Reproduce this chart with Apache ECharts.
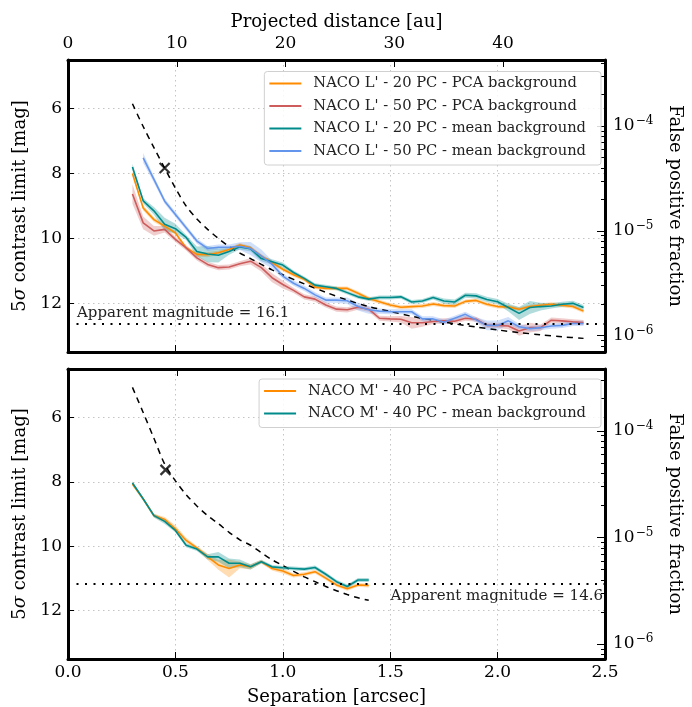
<!DOCTYPE html>
<html><head><meta charset="utf-8">
<script src="https://cdn.jsdelivr.net/npm/echarts@6/dist/echarts.min.js"></script>
<style>html,body{margin:0;padding:0;background:#fff}#c{width:692px;height:707px}</style>
</head><body><div id="c"></div>
<script>
// ---------- DATA ----------
const sepL = [0.30,0.35,0.40,0.45,0.50,0.55,0.60,0.65,0.70,0.75,
              0.80,0.85,0.90,0.95,1.00,1.05,1.10,1.15,1.20,1.25,
              1.30,1.35,1.40,1.45,1.50,1.55,1.60,1.65,1.70,1.75,
              1.80,1.85,1.90,1.95,2.00,2.05,2.10,2.15,2.20,2.25,
              2.30,2.35,2.40];
const orangeL = [8.0,9.06,9.42,9.62,9.83,10.29,10.49,10.5,10.44,10.34,
                 10.2,10.29,10.54,10.75,10.95,11.12,11.26,11.5,11.54,11.54,
                 11.54,11.69,11.85,11.95,12.05,12.12,12.1,12.08,12.02,12.07,
                 12.08,11.94,11.91,12.03,12.1,12.11,12.18,12.1,12.06,12.03,
                 12.06,12.1,12.24];
const redL = [8.63,9.52,9.77,9.72,10.03,10.29,10.6,10.8,10.9,10.88,
              10.78,10.7,10.9,11.21,11.42,11.6,11.8,11.87,12.05,12.18,
              12.2,12.12,12.18,12.46,12.48,12.49,12.6,12.6,12.56,12.54,
              12.55,12.46,12.49,12.68,12.68,12.7,12.85,12.75,12.75,12.52,
              12.54,12.57,12.59];
const tealL = [7.8,8.84,9.15,9.56,9.7,9.97,10.4,10.48,10.52,10.4,
               10.26,10.32,10.62,10.72,10.82,11.05,11.23,11.44,11.49,11.54,
               11.67,11.8,11.87,11.82,11.82,11.8,11.96,11.93,11.82,11.93,
               11.96,11.75,11.77,11.88,11.95,12.13,12.31,12.13,12.1,12.08,
               12.03,12.0,12.13];
const blueL = [null,7.52,8.18,8.85,9.26,9.67,10.08,10.31,10.27,10.27,
               10.24,10.31,10.54,10.8,11.16,11.38,11.54,11.74,11.9,11.9,
               11.92,12.1,12.2,12.24,12.26,12.26,12.26,12.48,12.48,12.58,
               12.46,12.34,12.51,12.68,12.68,12.54,12.72,12.78,12.75,12.7,
               12.68,12.62,12.62];
const errOrangeL = [0.08,0.08,0.07,0.06,0.06,0.06,0.07,0.08,0.06,0.06,
                    0.06,0.06,0.06,0.06,0.06,0.06,0.06,0.06,0.06,0.06,
                    0.06,0.06,0.06,0.06,0.06,0.06,0.06,0.06,0.06,0.06,
                    0.06,0.06,0.06,0.06,0.06,0.06,0.06,0.06,0.06,0.06,
                    0.06,0.06,0.06];
const errRedL = [0.3,0.2,0.15,0.1,0.08,0.08,0.08,0.08,0.08,0.08,
                 0.08,0.1,0.12,0.14,0.12,0.08,0.08,0.08,0.08,0.08,
                 0.08,0.08,0.08,0.08,0.08,0.1,0.18,0.12,0.08,0.08,
                 0.08,0.08,0.08,0.08,0.08,0.1,0.15,0.15,0.1,0.08,
                 0.08,0.08,0.08];
const errTealL = [0.1,0.08,0.12,0.2,0.15,0.08,0.15,0.25,0.22,0.1,
                  0.08,0.08,0.08,0.08,0.08,0.06,0.06,0.06,0.06,0.06,
                  0.06,0.06,0.06,0.06,0.06,0.06,0.06,0.06,0.06,0.08,
                  0.08,0.08,0.08,0.08,0.08,0.12,0.2,0.2,0.12,0.08,
                  0.08,0.08,0.08];
const errBlueL = [0,0.15,0.1,0.08,0.08,0.08,0.08,0.08,0.08,0.08,
                  0.12,0.2,0.2,0.12,0.08,0.08,0.08,0.08,0.08,0.08,
                  0.1,0.12,0.12,0.08,0.08,0.08,0.08,0.08,0.08,0.08,
                  0.08,0.08,0.08,0.15,0.15,0.12,0.08,0.08,0.08,0.08,
                  0.08,0.08,0.08];
const dashSepL = [0.30,0.35,0.40,0.45,0.50,0.55,0.60,0.65,0.70,0.75,0.80,0.85,0.90,0.95,1.00,
                  1.10,1.20,1.30,1.40,1.50,1.60,1.70,1.80,1.90,2.00,2.10,2.20,2.30,2.40];
const dashMagL = [5.85,6.55,7.2,7.83,8.45,9.0,9.4,9.72,10.0,10.25,10.45,10.62,10.8,10.97,11.12,
                  11.4,11.66,11.9,12.1,12.25,12.4,12.52,12.63,12.73,12.82,12.9,12.97,13.03,13.08];

const sepM = [0.30,0.35,0.40,0.45,0.50,0.55,0.60,0.65,0.70,0.75,
              0.80,0.85,0.90,0.95,1.00,1.05,1.10,1.15,1.20,1.25,
              1.30,1.35,1.40];
const orangeM = [8.07,8.53,9.05,9.17,9.46,9.82,10.05,10.33,10.58,10.69,
                 10.58,10.64,10.48,10.69,10.77,10.91,10.87,10.79,10.99,11.2,
                 11.32,11.2,11.22];
const tealM = [8.04,8.53,9.05,9.23,9.51,9.97,10.09,10.33,10.33,10.53,
               10.53,10.64,10.48,10.64,10.67,10.69,10.71,10.66,10.87,11.1,
               11.25,11.05,11.05];
const errOrangeM = [0.06,0.06,0.06,0.08,0.1,0.08,0.06,0.1,0.15,0.28,
                    0.1,0.08,0.06,0.06,0.08,0.06,0.06,0.06,0.06,0.06,
                    0.06,0.06,0.06];
const errTealM = [0.06,0.06,0.06,0.08,0.06,0.06,0.06,0.08,0.15,0.15,
                  0.12,0.08,0.06,0.06,0.06,0.06,0.06,0.06,0.06,0.06,
                  0.06,0.06,0.06];
const dashSepM = [0.30,0.35,0.40,0.45,0.50,0.55,0.60,0.65,0.70,0.75,0.80,0.85,0.90,0.95,1.00,
                  1.05,1.10,1.15,1.20,1.25,1.30,1.35,1.40];
const dashMagM = [5.07,5.85,6.65,7.45,7.97,8.4,8.75,9.05,9.3,9.57,9.8,9.97,10.2,10.42,10.6,
                  10.78,10.95,11.1,11.25,11.38,11.5,11.6,11.68];

const crossSep = [0.45, 0.454];
const crossMag = [7.83, 7.63];
const limitMag = [12.64, 11.18];
const limitText = ['Apparent magnitude = 16.1', 'Apparent magnitude = 14.6'];

const namesL = ["NACO L' - 20 PC - PCA background", "NACO L' - 50 PC - PCA background",
                "NACO L' - 20 PC - mean background", "NACO L' - 50 PC - mean background"];
const namesM = ["NACO M' - 40 PC - PCA background", "NACO M' - 40 PC - mean background"];

const sepTicks = [0, 0.5, 1.0, 1.5, 2.0, 2.5];
const auTicks = [0, 10, 20, 30, 40];
const magTicks = [6, 8, 10, 12];
const fpfExponents = [-6, -5, -4];
const distancePc = 19.75;
const fpfRange = [[-6.155, -3.37], [-6.14, -3.42]];

// ---------- STYLE ----------
const FONT = 'DejaVu Serif';
const C = {orange:'#ff8c00', red:'#cd5c5c', teal:'#008b8b', blue:'#6495ed'};

const minorFpf = [];
for (let n = -7; n <= -3; n++) for (let k = 2; k <= 9; k++) minorFpf.push(n + Math.log10(k));

function lineSeries(name, xs, ys, color, gi) {
  const data = [];
  xs.forEach((x, i) => { if (ys[i] != null) data.push([x, ys[i]]); });
  return {type:'line', name, data, xAxisIndex: gi*2, yAxisIndex: gi*3, symbol:'none',
          lineStyle:{color, width:1.6}, itemStyle:{color}, z:4, animation:false};
}
function bandSeries(key, xs, ys, es, color, gi) {
  const rows = [];
  xs.forEach((x, i) => { if (ys[i] != null) rows.push([x, ys[i]-es[i], ys[i]+es[i]]); });
  return {type:'custom', name:'_band'+key, xAxisIndex: gi*2, yAxisIndex: gi*3, silent:true, animation:false, z:2,
    data: rows, encode:{x:0, y:[1,2]}, clip:true,
    renderItem: (params, api) => {
      if (params.dataIndex !== 0) return null;
      const pts = [];
      rows.forEach(r => pts.push(api.coord([r[0], r[2]])));
      for (let j = rows.length-1; j >= 0; j--) pts.push(api.coord([rows[j][0], rows[j][1]]));
      return {type:'polygon', shape:{points: pts}, style:{fill: color, opacity: 0.3}};
    }};
}
function dashSeries(xs, ys, gi) {
  return {type:'line', name:'_dash'+gi, data: xs.map((x,i)=>[x, ys[i]]), xAxisIndex: gi*2, yAxisIndex: gi*3,
          symbol:'none', smooth:0.3, z:3, animation:false, silent:true,
          lineStyle:{color:'#000', width:1.5, type:[6,5]},
          markLine:{silent:true, symbol:['none','none'], animation:false,
            data:[{yAxis: limitMag[gi]}],
            lineStyle:{color:'#000', width:2, type:[2,6.5]},
            label:{show:true, formatter: limitText[gi], fontFamily:FONT, fontSize:15, color:'#222',
                   position: gi===0 ? 'insideStartTop' : 'insideEndBottom', distance: gi===0 ? [9,3] : [2,4]}}};
}
function crossSeries(gi) {
  return {type:'scatter', name:'_x'+gi, data:[[crossSep[gi], crossMag[gi]]], xAxisIndex: gi*2, yAxisIndex: gi*3,
          symbol:'path://M0,0L10,10M10,0L0,10', symbolSize:10, z:5, animation:false, silent:true,
          itemStyle:{color:'rgba(0,0,0,0)', borderColor:'#000', borderWidth:2.2}};
}

const grids = [
  {left:68, top:60, width:547, height:292},
  {left:68, top:369, width:547, height:290}
];
const axLine = {show:true, onZero:false, lineStyle:{color:'#000', width:3}};
const tickIn = {show:true, inside:true, length:7, lineStyle:{color:'#000', width:1}};
const gridLine = {show:true, lineStyle:{color:'#c4c4c4', width:1, type:[1.5,3.5]}};
const lab = {fontFamily:FONT, fontSize:17, color:'#000'};
const nameStyle = {fontFamily:FONT, fontSize:18, color:'#000'};

const xAxis = [], yAxis = [];
[0,1].forEach(gi => {
  xAxis.push({gridIndex:gi, type:'value', position:'bottom', min:sepTicks[0], max:sepTicks[sepTicks.length-1], interval:0.5,
    axisLine:axLine, axisTick:tickIn, splitLine:gridLine,
    axisLabel: Object.assign({show: gi===1, margin:5, formatter: v => v.toFixed(1)}, lab),
    name: gi===1 ? 'Separation [arcsec]' : '', nameLocation:'middle', nameGap:29, nameTextStyle:nameStyle});
  xAxis.push({gridIndex:gi, type:'value', position:'top', min:0, max:2.5*distancePc, interval:10,
    axisLine:axLine, axisTick:tickIn, splitLine:{show:false},
    axisLabel: Object.assign({show: gi===0, margin:8, showMaxLabel:false}, lab),
    name: gi===0 ? 'Projected distance [au]' : '', nameLocation:'middle', nameGap:29, nameTextStyle:nameStyle});
  yAxis.push({gridIndex:gi, type:'value', position:'left', inverse:true, min:4.5, max:13.5,
    axisLine:axLine, axisTick:Object.assign({}, tickIn, {length:6, customValues: magTicks}),
    splitLine:gridLine, splitNumber:5,
    axisLabel: Object.assign({margin:6, customValues: magTicks}, lab),
    name:'5{i|σ} contrast limit [mag]', nameLocation:'middle', nameGap:39,
    nameTextStyle:Object.assign({rich:{i:{fontFamily:FONT, fontSize:18, fontStyle:'italic', color:'#000'}}}, nameStyle)});
  yAxis.push({gridIndex:gi, type:'value', position:'right', min:fpfRange[gi][0], max:fpfRange[gi][1],
    axisLine:axLine, axisTick:Object.assign({}, tickIn, {length:8, customValues: fpfExponents}), splitLine:{show:false},
    axisLabel: Object.assign({margin:8, customValues: fpfExponents,
      formatter: v => '10{s|−' + Math.abs(Math.round(v)) + '}',
      rich:{s:{fontFamily:FONT, fontSize:12, color:'#000', padding:[0,0,10,1]}}}, lab),
    name:'False positive fraction', nameLocation:'middle', nameGap:61, nameRotate:-90, nameTextStyle:nameStyle});
  yAxis.push({gridIndex:gi, type:'value', position:'right', min:fpfRange[gi][0], max:fpfRange[gi][1],
    axisLine:{show:false, onZero:false}, axisLabel:{show:false}, splitLine:{show:false},
    axisTick:{show:true, inside:true, length:4, lineStyle:{color:'#000', width:1}, customValues: minorFpf}});
});

const series = [];
series.push(bandSeries('oL', sepL, orangeL, errOrangeL, C.orange, 0));
series.push(bandSeries('rL', sepL, redL, errRedL, C.red, 0));
series.push(bandSeries('tL', sepL, tealL, errTealL, C.teal, 0));
series.push(bandSeries('bL', sepL, blueL, errBlueL, C.blue, 0));
series.push(lineSeries(namesL[0], sepL, orangeL, C.orange, 0));
series.push(lineSeries(namesL[1], sepL, redL, C.red, 0));
series.push(lineSeries(namesL[2], sepL, tealL, C.teal, 0));
series.push(lineSeries(namesL[3], sepL, blueL, C.blue, 0));
series.push(dashSeries(dashSepL, dashMagL, 0));
series.push(crossSeries(0));
series.push(bandSeries('oM', sepM, orangeM, errOrangeM, C.orange, 1));
series.push(bandSeries('tM', sepM, tealM, errTealM, C.teal, 1));
series.push(lineSeries(namesM[0], sepM, orangeM, C.orange, 1));
series.push(lineSeries(namesM[1], sepM, tealM, C.teal, 1));
series.push(dashSeries(dashSepM, dashMagM, 1));
series.push(crossSeries(1));

const legendBase = {orient:'vertical', right:91, icon:'rect', itemWidth:32, itemHeight:2, itemGap:4.5,
  padding:[3,15,5,5], backgroundColor:'rgba(255,255,255,0.85)', borderColor:'#d0d0d0', borderWidth:1, borderRadius:3,
  textStyle:{fontFamily:FONT, fontSize:14.7, lineHeight:18, color:'#222', padding:[0,0,0,7]}, selectedMode:false, z:10};

const chart = echarts.init(document.getElementById('c'), null, {renderer:'canvas'});
chart.setOption({
  animation:false,
  backgroundColor:'#fff',
  grid: grids,
  xAxis, yAxis,
  legend:[Object.assign({}, legendBase, {top:71.5, data:namesL}),
          Object.assign({}, legendBase, {top:379, data:namesM})],
  series
});
</script></body></html>
